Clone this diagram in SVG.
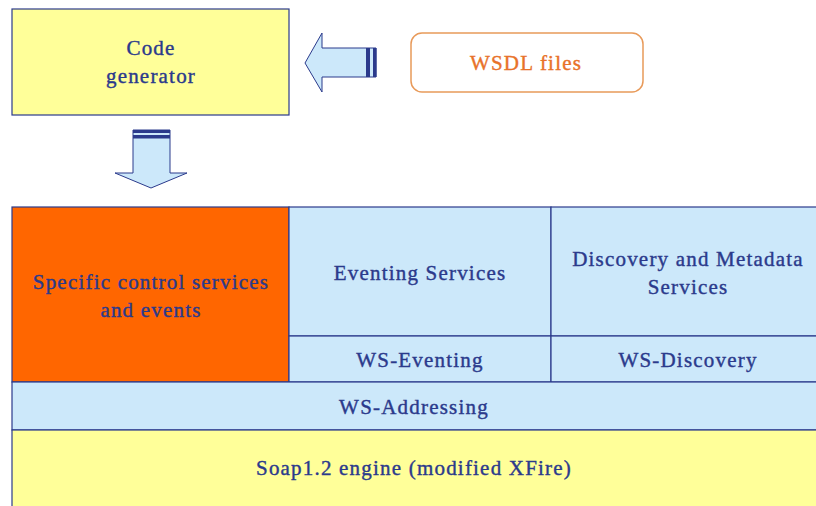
<svg xmlns="http://www.w3.org/2000/svg" width="816" height="506" viewBox="0 0 816 506">
  <style>
    .lbl { font-family: "Liberation Serif", "Times New Roman", serif; font-size: 21px; letter-spacing: 1.2px; fill: #2B3A8C; stroke: #2B3A8C; stroke-width: 0.4; text-anchor: middle; dominant-baseline: central; }
    .orange-lbl { fill: #E8722A; stroke: #E8722A; }
    .box { stroke: #2B3A8C; stroke-width: 1.2; }
    .blue { fill: #CCE8FA; }
    .yellow { fill: #FFFF99; }
    .arrow { fill: #CCE8FA; stroke: #2B3A8C; stroke-width: 1; }
    .stripe { fill: #2B3A8C; }
  </style>
  <rect x="0" y="0" width="816" height="506" fill="#FFFFFF"/>

  <g id="code-generator">
    <rect class="box yellow" x="12" y="9" width="277" height="106"/>
    <text class="lbl" x="151" y="48">Code</text>
    <text class="lbl" x="151" y="76">generator</text>
  </g>

  <g id="wsdl-files">
    <rect x="411" y="33" width="232" height="59" rx="11" fill="#FFFFFF" stroke="#E89A5A" stroke-width="1.5"/>
    <text class="lbl orange-lbl" x="526" y="63">WSDL files</text>
  </g>

  <g id="connectors">
    <!-- block arrow from WSDL files into the generator, striped tail -->
    <g id="arrow-wsdl-to-generator">
      <path class="arrow" d="M305,63 L322,33 L322,48 L376,48 L376,77 L322,77 L322,92 Z"/>
      <rect class="stripe" x="366" y="48" width="4" height="29"/>
      <rect class="stripe" x="373" y="48" width="3.5" height="29"/>
    </g>
    <!-- block arrow from the generator down to the service stack, striped tail -->
    <g id="arrow-generator-to-stack">
      <path class="arrow" d="M133,130 L170,130 L170,173 L187,173 L151,188 L115,173 L133,173 Z"/>
      <rect class="stripe" x="133" y="130" width="37" height="3"/>
      <rect class="stripe" x="133" y="135" width="37" height="3.5"/>
    </g>
  </g>

  <g id="specific-control">
    <rect class="box" x="12" y="207" width="277" height="175" fill="#FF6600"/>
    <text class="lbl" x="151" y="282">Specific control services</text>
    <text class="lbl" x="151" y="310">and events</text>
  </g>

  <g id="eventing-services">
    <rect class="box blue" x="289" y="207" width="262" height="129"/>
    <text class="lbl" x="420" y="273">Eventing Services</text>
  </g>

  <g id="discovery-services">
    <rect class="box blue" x="551" y="207" width="266" height="129"/>
    <text class="lbl" x="688" y="259">Discovery and Metadata</text>
    <text class="lbl" x="688" y="287">Services</text>
  </g>

  <g id="ws-eventing">
    <rect class="box blue" x="289" y="336" width="262" height="46"/>
    <text class="lbl" x="420" y="360">WS-Eventing</text>
  </g>

  <g id="ws-discovery">
    <rect class="box blue" x="551" y="336" width="266" height="46"/>
    <text class="lbl" x="688" y="360">WS-Discovery</text>
  </g>

  <g id="ws-addressing">
    <rect class="box blue" x="12" y="382" width="805" height="48"/>
    <text class="lbl" x="414" y="407">WS-Addressing</text>
  </g>

  <g id="soap-engine">
    <rect class="box yellow" x="12" y="430" width="805" height="78"/>
    <text class="lbl" x="414" y="468">Soap1.2 engine (modified XFire)</text>
  </g>
</svg>
